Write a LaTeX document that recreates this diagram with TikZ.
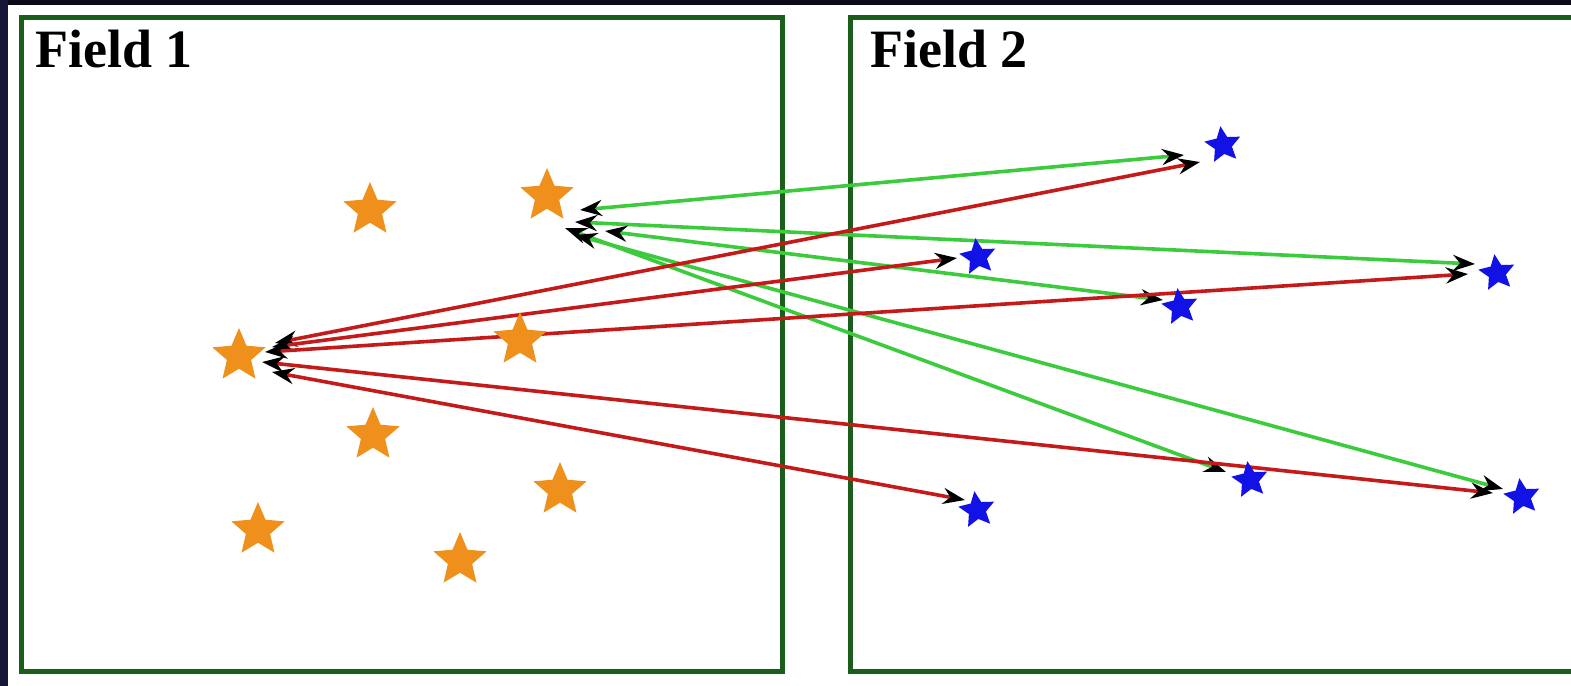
\documentclass[tikz,border=0pt]{standalone}
\usepackage{fontspec}
\setmainfont{Liberation Serif}
\usetikzlibrary{shapes.geometric,arrows.meta}
\definecolor{bgdark}{HTML}{0A0A18}
\definecolor{bgleft}{HTML}{161638}
\definecolor{framegreen}{HTML}{1B5E1B}
\definecolor{starorange}{HTML}{F0901C}
\definecolor{starblue}{HTML}{1212E6}
\definecolor{linkgreen}{HTML}{3CCB3C}
\definecolor{linkred}{HTML}{C41A1A}
\tikzset{
  fieldframe/.style={draw=framegreen,line width=2.5pt},
  fieldlabel/.style={anchor=base west,inner sep=0pt,font=\fontsize{27}{30}\selectfont\bfseries},
  ostar/.style={star,star points=5,star point ratio=2.2,fill=starorange,draw=none,minimum size=28pt,inner sep=0pt},
  bstar/.style={star,star points=5,star point ratio=2.1,fill=starblue,draw=none,minimum size=19pt,inner sep=0pt},
  link/.style={line width=1.8pt,{Stealth[color=black,length=11pt,width=8pt]}-{Stealth[color=black,length=11pt,width=8pt]}},
  glink/.style={link,draw=linkgreen},
  rlink/.style={link,draw=linkred},
}
\begin{document}
\begin{tikzpicture}[x=0.5pt,y=-0.5pt]
\useasboundingbox (0,0) rectangle (1571,686);
% background
\fill[bgdark] (0,0) rectangle (1571,686);
\fill[bgleft] (0,0) rectangle (8,686);
\fill[white] (8,5) rectangle (1571,686);
% fields
\draw[fieldframe] (21,17) rectangle (782,671);
\draw[fieldframe] (1590,17) -- (850,17) -- (850,671) -- (1590,671);
\clip (0,0) rectangle (1571,686);
\node[fieldlabel] (lab1) at (35,67) {Field 1};
\node[fieldlabel] (lab2) at (870,67) {Field 2};
% connector end points near the orange stars
\coordinate (gs1) at (580,210);
\coordinate (gs3) at (575,222);
\coordinate (gs4) at (605,231);
\coordinate (gs5) at (565,228);
\coordinate (gs6) at (575,235);
\coordinate (rs1) at (275,343);
\coordinate (rs2) at (272,347);
\coordinate (rs3) at (265,352);
\coordinate (rs6) at (262,362);
\coordinate (rs7) at (272,372);
% connector end points near the blue stars
\coordinate (ge1) at (1184,155);
\coordinate (re1) at (1200,162);
\coordinate (re2) at (957,258);
\coordinate (ge3) at (1475,264);
\coordinate (re3) at (1468,274);
\coordinate (ge4) at (1163,300);
\coordinate (ge5) at (1226,472);
\coordinate (ge6) at (1503,489);
\coordinate (re6) at (1493,493);
\coordinate (re7) at (965,500);
% connectors
\draw[glink] (gs1) -- (ge1);
\draw[glink] (gs3) -- (ge3);
\draw[glink] (gs4) -- (ge4);
\draw[glink] (gs5) -- (ge5);
\draw[glink] (gs6) -- (ge6);
\draw[rlink] (rs1) -- (re1);
\draw[rlink] (rs2) -- (re2);
\draw[rlink] (rs3) -- (re3);
\draw[rlink] (rs6) -- (re6);
\draw[rlink] (rs7) -- (re7);
% orange stars (Field 1)
\node[ostar] (o1) at (370,210) {};
\node[ostar] (o2) at (547,196) {};
\node[ostar] (o3) at (239,356) {};
\node[ostar] (o4) at (520,340) {};
\node[ostar] (o5) at (373,435) {};
\node[ostar] (o6) at (560,490) {};
\node[ostar] (o7) at (258,530) {};
\node[ostar] (o8) at (460,560) {};
% blue stars (Field 2)
\node[bstar,rotate=8] (b1) at (1223,145) {};
\node[bstar,rotate=8] (b2) at (978,257) {};
\node[bstar,rotate=8] (b3) at (1497,273) {};
\node[bstar,rotate=8] (b4) at (1180,307) {};
\node[bstar,rotate=8] (b5) at (1250,480) {};
\node[bstar,rotate=8] (b6) at (1522,497) {};
\node[bstar,rotate=8] (b7) at (977,510) {};
\end{tikzpicture}
\end{document}
